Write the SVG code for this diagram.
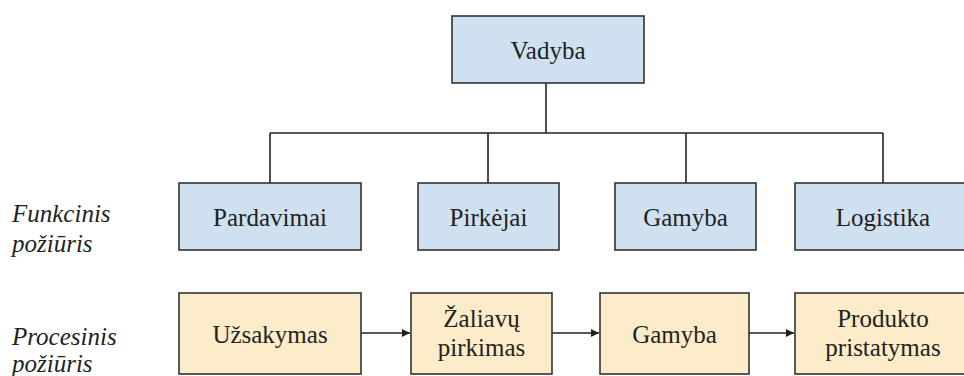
<svg xmlns="http://www.w3.org/2000/svg" width="964" height="376" viewBox="0 0 964 376">
<style>
.box{stroke:#333;stroke-width:1.6}
.fn{fill:#cfe0f0}
.pr{fill:#fcecc9}
.t{font-family:"Liberation Serif","Times New Roman",Times,"DejaVu Serif",serif;font-size:25px;fill:#222;text-anchor:middle}
.lbl{font-family:"Liberation Serif","Times New Roman",Times,"DejaVu Serif",serif;font-size:25px;font-style:italic;fill:#222}
.c{stroke:#222;stroke-width:1.6;fill:none}
</style>
<defs>
<marker id="ah" viewBox="0 0 10 10" refX="10" refY="5" markerWidth="10" markerHeight="8" markerUnits="userSpaceOnUse" orient="auto">
<path d="M0,0 L10,5 L0,10 z" fill="#222"/>
</marker>
</defs>
<rect width="964" height="376" fill="#fff"/>
<g id="connectors">
<path class="c" d="M546,83 V133 M270,133 H883 M270,133 V183 M488,133 V183 M686,133 V183 M883,133 V183"/>
<path class="c" d="M361,333 H410" marker-end="url(#ah)"/>
<path class="c" d="M552,333 H599" marker-end="url(#ah)"/>
<path class="c" d="M749,333 H794" marker-end="url(#ah)"/>
</g>
<g id="vadyba"><rect class="box fn" x="452" y="16" width="192" height="67"/><text class="t" x="548" y="59">Vadyba</text></g>
<g id="pardavimai"><rect class="box fn" x="179" y="183" width="182" height="67"/><text class="t" x="270" y="226">Pardavimai</text></g>
<g id="pirkejai"><rect class="box fn" x="418" y="183" width="141" height="67"/><text class="t" x="488.5" y="226">Pirkėjai</text></g>
<g id="gamyba1"><rect class="box fn" x="615" y="183" width="141" height="67"/><text class="t" x="685.5" y="226">Gamyba</text></g>
<g id="logistika"><rect class="box fn" x="795" y="183" width="176" height="67"/><text class="t" x="883" y="226">Logistika</text></g>
<g id="uzsakymas"><rect class="box pr" x="179" y="293" width="182" height="81"/><text class="t" x="270" y="343">Užsakymas</text></g>
<g id="zaliavu"><rect class="box pr" x="411" y="293" width="141" height="81"/><text class="t" x="481.5" y="327">Žaliavų</text><text class="t" x="481.5" y="356">pirkimas</text></g>
<g id="gamyba2"><rect class="box pr" x="600" y="293" width="149" height="81"/><text class="t" x="674.5" y="343">Gamyba</text></g>
<g id="produkto"><rect class="box pr" x="795" y="293" width="176" height="81"/><text class="t" x="883" y="327">Produkto</text><text class="t" x="883" y="356">pristatymas</text></g>
<g id="labels">
<text class="lbl" x="12" y="222">Funkcinis</text>
<text class="lbl" x="12" y="252">požiūris</text>
<text class="lbl" x="12" y="345">Procesinis</text>
<text class="lbl" x="12" y="372">požiūris</text>
</g>
</svg>
